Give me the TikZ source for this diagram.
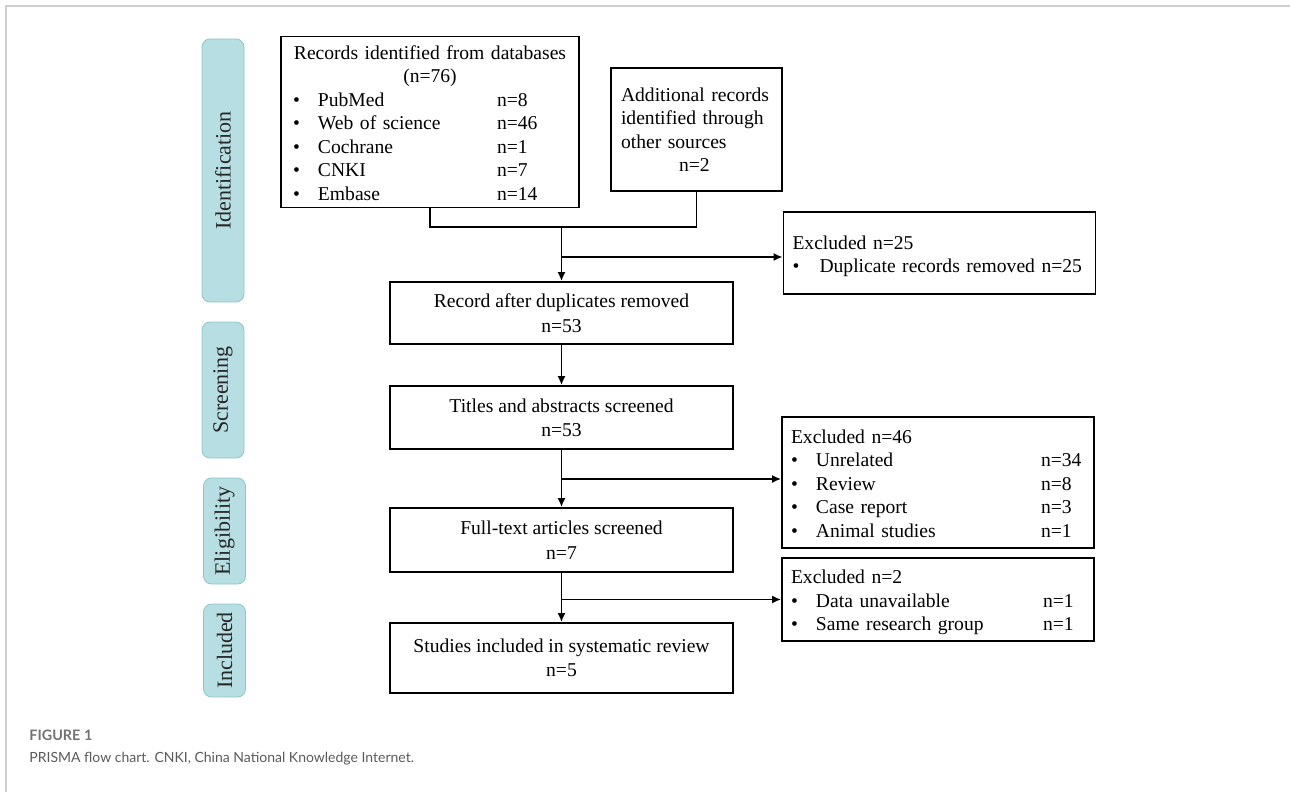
\documentclass[tikz,border=0pt]{standalone}
\usepackage{fontspec}
\setmainfont{Liberation Serif}
\newfontfamily\capfont{Lato}
\usetikzlibrary{arrows.meta}

\definecolor{pillfill}{HTML}{B7DEE2}
\definecolor{pilldraw}{HTML}{8EC6CC}
\definecolor{rulegray}{HTML}{CFCFCF}
\definecolor{capgray}{HTML}{5A5A5A}

\tikzset{
  box/.style={draw, line width=0.9pt, inner sep=0pt, font=\fontsize{9.8}{11.75}\selectfont},
  listbox/.style={box, execute at begin node={\rule{0pt}{11.5pt}}},
  stepbox/.style={box, minimum width=171.5pt, align=center, font=\fontsize{9.8}{12.2}\selectfont},
  stage/.style={draw=pilldraw, fill=pillfill, rounded corners=4pt, rotate=90,
    minimum height=21pt, inner sep=0pt, font=\fontsize{11}{13}\selectfont, text=black!85},
  link/.style={line width=0.85pt},
  arr/.style={line width=0.85pt, -{Latex[length=4.5pt,width=4pt]}},
}

\begin{document}
\begin{tikzpicture}[x=0.5pt, y=-0.5pt]
    \useasboundingbox (0,0) rectangle (1290,792);
    \draw[rulegray, line width=1pt] (6,792) -- (6,6) -- (1290,6);

    % stages
    \node[stage, minimum width=131.5pt] (ident) at (223,170.5) {Identification};
    \node[stage, minimum width=68pt] (scr) at (223,390) {Screening};
    \node[stage, minimum width=53pt] (elig) at (224.5,531) {Eligibility};
    \node[stage, minimum width=46.5pt] (incl) at (224.5,650.5) {Included};

    % sources
    \node[listbox, text width=137pt, inner xsep=6pt, minimum height=83pt, align=center] (db) at (430,122)
        {Records identified from databases\\(n=76)\\\begin{tabular}[t]{@{}p{12.5pt}@{}p{89.5pt}@{}p{35pt}@{}}
        \textbullet & PubMed & n=8\\
        \textbullet & Web of science & n=46\\
        \textbullet & Cochrane & n=1\\
        \textbullet & CNKI & n=7\\
        \textbullet & Embase & n=14
        \end{tabular}};
    \node[box, text width=75.5pt, inner xsep=5pt, minimum height=61.5pt, align=left] (extra) at (696.5,129.5)
        {Additional records\\identified through\\other sources\\\hspace*{29pt}n=2};

    % main column
    \node[stepbox, minimum height=31pt] (dedup) at (561.5,313)
        {Record after duplicates removed\\n=53};
    \node[stepbox, minimum height=31.5pt] (screened) at (561.5,417.5)
        {Titles and abstracts screened\\n=53};
    \node[stepbox, minimum height=32pt] (fulltext) at (561.5,540)
        {Full-text articles screened\\n=7};
    \node[stepbox, minimum height=35pt] (final) at (561.5,658)
        {Studies included in systematic review\\n=5};

    % exclusions
    \node[listbox, text width=147pt, inner xsep=4.5pt, minimum height=41pt, align=left] (exdup) at (939.5,253)
        {Excluded n=25\\\begin{tabular}[t]{@{}p{13.5pt}@{}l@{}}
        \textbullet & Duplicate records removed n=25
        \end{tabular}};
    \node[listbox, text width=147pt, inner xsep=4.5pt, minimum height=65.5pt, align=left] (exabs) at (938,482.5)
        {Excluded n=46\\\begin{tabular}[t]{@{}p{12.5pt}@{}p{112.5pt}@{}l@{}}
        \textbullet & Unrelated & n=34\\
        \textbullet & Review & n=8\\
        \textbullet & Case report & n=3\\
        \textbullet & Animal studies & n=1
        \end{tabular}};
    \node[listbox, text width=147pt, inner xsep=4.5pt, minimum height=41.5pt, align=left] (exfull) at (938,599.5)
        {Excluded n=2\\\begin{tabular}[t]{@{}p{12.5pt}@{}p{113.5pt}@{}l@{}}
        \textbullet & Data unavailable & n=1\\
        \textbullet & Same research group & n=1
        \end{tabular}};

    % connectors
    \coordinate (merge) at (561.5,227);
    \draw[link] (db.south) |- (merge) -| (extra.south);
    \draw[arr] (merge) -- (dedup);
    \coordinate (split1) at (561.5,257);
    \draw[arr] (split1) -- (split1 -| exdup.west);

    \draw[arr] (dedup) -- (screened);
    \draw[arr] (screened) -- (fulltext);
    \coordinate (split2) at (561.5,479);
    \draw[arr] (split2) -- (split2 -| exabs.west);

    \draw[arr] (fulltext) -- (final);
    \coordinate (split3) at (561.5,599.5);
    \draw[arr] (split3) -- (split3 -| exfull.west);

    % caption
    \node[anchor=west, inner sep=0pt, font=\capfont\bfseries\fontsize{7.2}{8.6}\selectfont, text=capgray!85] (fig) at (29,735) {FIGURE 1};
    \node[anchor=west, inner sep=0pt, font=\capfont\fontsize{7}{8.4}\selectfont, text=capgray] (cap) at (29,759)
        {PRISMA flow chart. CNKI, China National Knowledge Internet.};
\end{tikzpicture}
\end{document}
